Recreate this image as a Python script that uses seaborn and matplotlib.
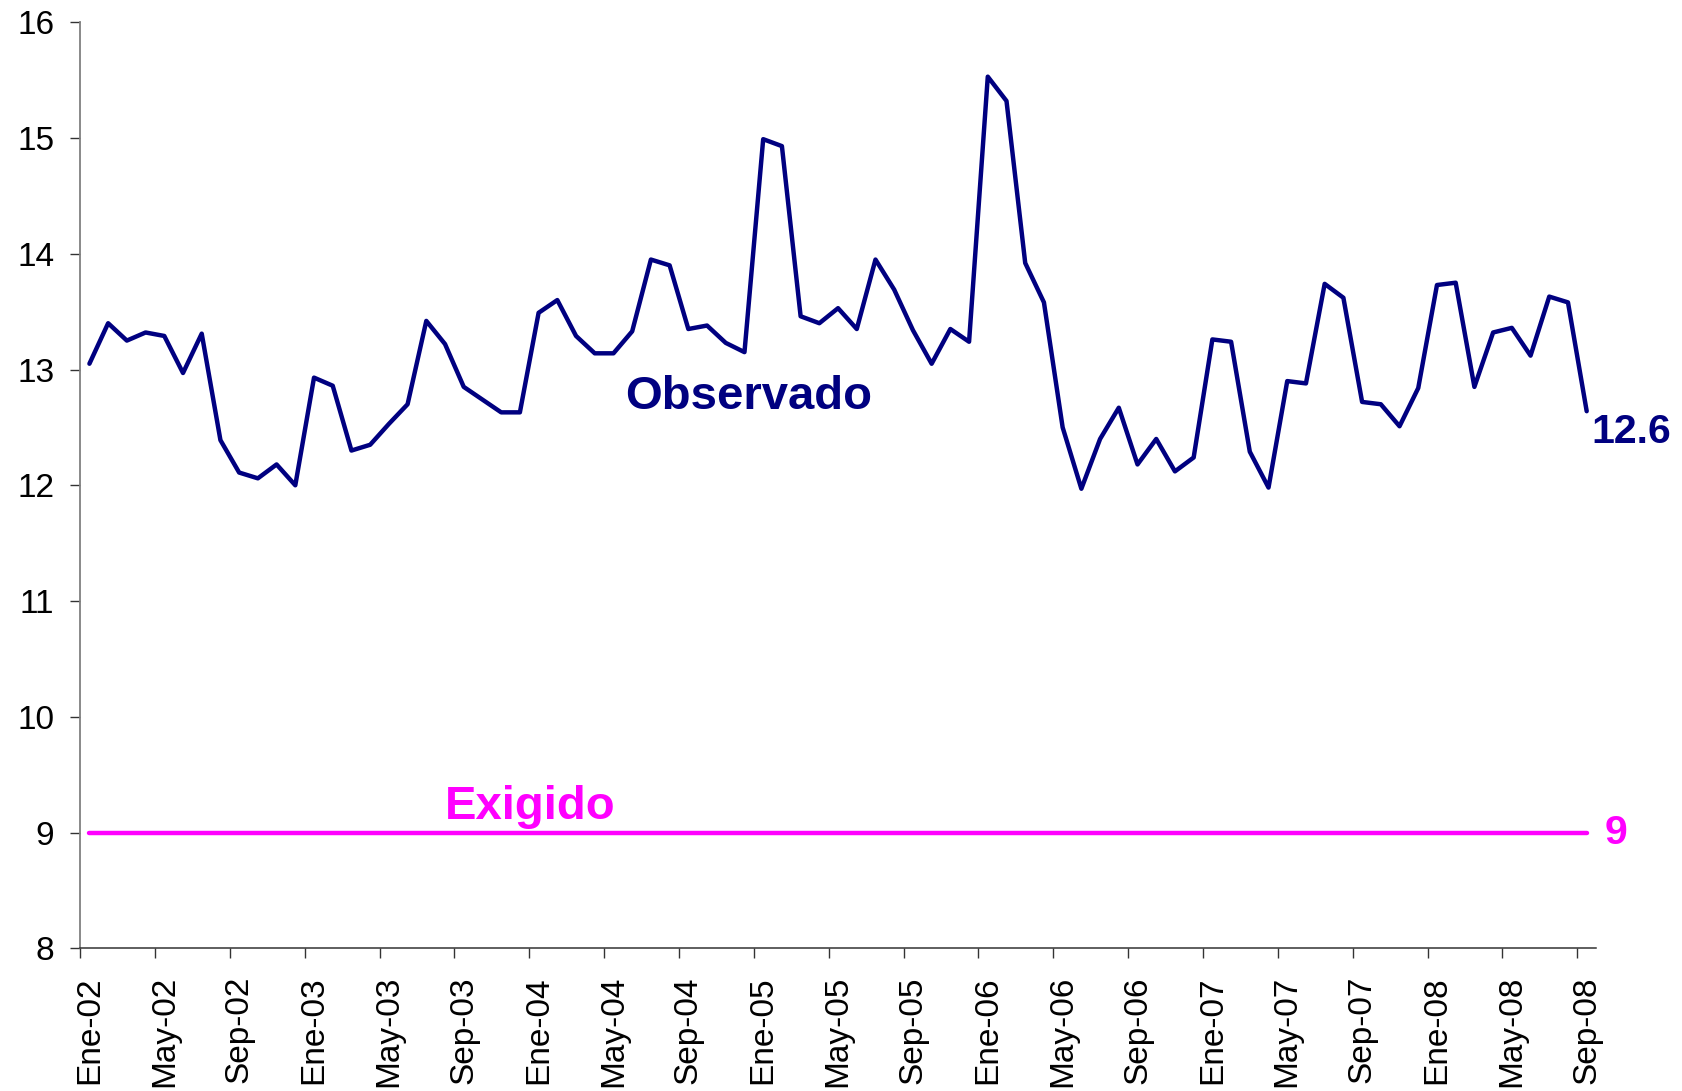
import matplotlib
matplotlib.use("Agg")
import matplotlib.pyplot as plt
import seaborn as sns
import pandas as pd
from matplotlib.ticker import FixedLocator

# Monthly series, Ene-02 .. Sep-08
meses = ["Ene", "Feb", "Mar", "Abr", "May", "Jun", "Jul", "Ago", "Sep", "Oct", "Nov", "Dic"]
periodos = [f"{m}-{a:02d}" for a in range(2, 9) for m in meses][:81]

observado = [
    13.05, 13.40, 13.25, 13.32, 13.29, 12.97, 13.31, 12.39, 12.11, 12.06, 12.18, 12.00,
    12.93, 12.86, 12.30, 12.35, 12.53, 12.70, 13.42, 13.22, 12.85, 12.74, 12.63, 12.63,
    13.49, 13.60, 13.29, 13.14, 13.14, 13.33, 13.95, 13.90, 13.35, 13.38, 13.23, 13.15,
    14.99, 14.93, 13.46, 13.40, 13.53, 13.35, 13.95, 13.69, 13.34, 13.05, 13.35, 13.24,
    15.53, 15.32, 13.92, 13.58, 12.50, 11.97, 12.40, 12.67, 12.18, 12.40, 12.12, 12.24,
    13.26, 13.24, 12.29, 11.98, 12.90, 12.88, 13.74, 13.62, 12.72, 12.70, 12.51, 12.84,
    13.73, 13.75, 12.85, 13.32, 13.36, 13.12, 13.63, 13.58, 12.64,
]
exigido = [9.0] * len(observado)

df = pd.DataFrame({"idx": range(len(periodos)), "periodo": periodos,
                   "Observado": observado, "Exigido": exigido})

sns.set_style("ticks")
plt.rcParams["font.family"] = ["Liberation Sans", "DejaVu Sans"]
plt.rcParams["text.color"] = "black"
plt.rcParams["xtick.labelcolor"] = "black"
plt.rcParams["ytick.labelcolor"] = "black"

navy = "#000080"
magenta = "#FF00FF"

fig = plt.figure(figsize=(16.82, 10.91), dpi=100)
ax = fig.add_axes([0.0476, 0.1308, 0.9013, 0.8488])

sns.lineplot(data=df, x="idx", y="Observado", ax=ax, color=navy, linewidth=3.2)
sns.lineplot(data=df, x="idx", y="Exigido", ax=ax, color=magenta, linewidth=3.2)

ax.set_xlim(-0.5, len(periodos) - 0.5)
ax.set_ylim(8, 16)
ax.set_yticks(range(8, 17))
ax.set_xlabel("")
ax.set_ylabel("")

# labels every 4 months, tick marks at category boundaries
lab_pos = list(range(0, len(periodos), 4))
ax.set_xticks(lab_pos)
ax.set_xticklabels([periodos[i] for i in lab_pos], rotation=90, va="top", ha="center")
ax.xaxis.set_minor_locator(FixedLocator([i - 0.5 for i in lab_pos]))
ax.tick_params(axis="x", which="major", length=0, pad=20, labelsize=24)
ax.tick_params(axis="x", which="minor", length=7.5, width=1.0, color="#333333")
ax.tick_params(axis="y", length=7.5, width=1.0, color="#333333", pad=11, labelsize=24)

sns.despine(ax=ax)
ax.spines["left"].set_color("#808080")
ax.spines["left"].set_linewidth(1.3)
ax.spines["bottom"].set_color("#333333")
ax.spines["bottom"].set_linewidth(1.1)

ax.text(28.64, 12.76, "Observado", color=navy, fontsize=34, fontweight="bold",
        ha="left", va="center")
ax.text(19.0, 9.22, "Exigido", color=magenta, fontsize=34, fontweight="bold",
        ha="left", va="center")
ax.text(80.25, 12.46, f"{observado[-1]:.1f}", color=navy, fontsize=29.5,
        fontweight="bold", ha="left", va="center", clip_on=False)
ax.text(80.96, 9.0, f"{exigido[-1]:.0f}", color=magenta, fontsize=29.5,
        fontweight="bold", ha="left", va="center", clip_on=False)

fig.savefig("out.png", dpi=100, facecolor="white")
